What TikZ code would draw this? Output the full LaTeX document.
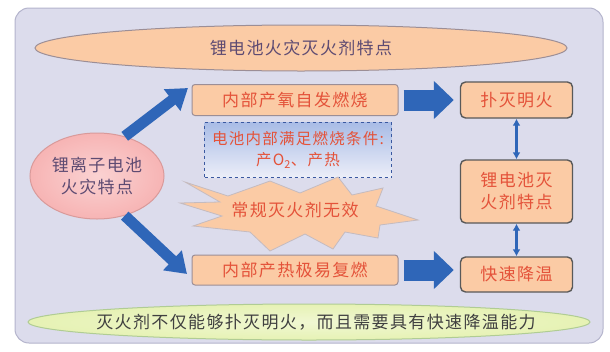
\documentclass[tikz,border=0pt]{standalone}
\usepackage{fontspec}
\setmainfont{Noto Sans CJK SC}[LetterSpace=8]
\usetikzlibrary{shapes.geometric,arrows.meta}
\definecolor{bgfill}{HTML}{DCDCEC}
\definecolor{bgline}{HTML}{B4B4CC}
\definecolor{peach}{HTML}{FBCBA5}
\definecolor{peachline}{HTML}{9C8E96}
\definecolor{redtxt}{HTML}{E4533A}
\definecolor{purtxt}{HTML}{5E4B72}
\definecolor{arrblue}{HTML}{2F66B8}
\definecolor{pinkfill}{HTML}{F7B4B4}
\definecolor{pinkline}{HTML}{D99A9A}
\definecolor{greenfill}{HTML}{E6F2B4}
\definecolor{greenline}{HTML}{B0CC94}
\definecolor{condtop}{HTML}{A9BCE6}
\definecolor{condbot}{HTML}{ECEEF8}
\definecolor{condline}{HTML}{3A58A0}
\begin{document}
\begin{tikzpicture}[x=1pt,y=-1pt,
  every node/.style={font=\fontsize{17}{21}\selectfont, inner sep=0pt, align=center},
  bgbox/.style={draw=bgline, fill=bgfill, line width=1pt, rounded corners=14pt},
  peachbox/.style={draw=peachline, fill=peach, line width=1pt, rounded corners=3pt, text=redtxt},
  rightbox/.style={draw=black!65, fill=peach, line width=1.4pt, rounded corners=5pt, text=redtxt, minimum width=112pt},
  blockarrow/.style={arrblue, line width=21pt, -{Triangle[length=20pt,width=37pt]}, shorten <=5pt, shorten >=6pt},
  diagarrow/.style={arrblue, line width=11pt, -{Triangle[length=20pt,width=26pt]}},
  dblarrow/.style={arrblue, line width=2.6pt, {Latex[length=7pt,width=8pt]}-{Latex[length=7pt,width=8pt]}},
  burst/.style={draw=peachline!60, fill=peach, line width=0.8pt, line join=miter}
]
\useasboundingbox (0,0) rectangle (610,351);
\fill[white] (0,0) rectangle (610,351);
\node[bgbox, minimum width=588pt, minimum height=335pt] (bg) at (309,175.5) {};

\node[ellipse, draw=peachline, fill=peach, line width=1pt, minimum width=532pt, minimum height=46pt, text=purtxt] (top) at (301,48) {锂电池火灾灭火剂特点};

\node[peachbox, minimum width=206pt, minimum height=31pt] (box1) at (295,100) {内部产氧自发燃烧};
\node[peachbox, minimum width=206pt, minimum height=30pt] (box2) at (295,270) {内部产热极易复燃};

\node[rightbox, minimum height=36pt] (fire) at (516.5,100) {扑灭明火};
\node[rightbox, minimum height=63pt] (mid) at (516.5,191.5) {锂电池灭\\[1pt]火剂特点};
\node[rightbox, minimum height=35pt] (cool) at (516.5,274.5) {快速降温};

\node[draw=condline, dashed, line width=1.2pt, top color=condtop, bottom color=condbot, minimum width=187pt, minimum height=55pt, text=redtxt, font=\fontsize{15.5}{21}\selectfont] (cond) at (298,150) {电池内部满足燃烧条件:\\产O\textsubscript{2}、产热};

\draw[burst] (185,182) -- (228,196) -- (270,181) -- (300,193) -- (338,177) -- (352,195)
  -- (383,188) -- (376,206) -- (418,220) -- (380,225) -- (378,238) -- (345,232)
  -- (333,249) -- (305,234) -- (270,251) -- (250,232) -- (193,226) -- (222,216)
  -- (180,203) -- (220,202) -- cycle;
\node[text=redtxt] (star) at (295,210) {常规灭火剂无效};

\node[ellipse, draw=pinkline, line width=1pt, inner color=pinkfill!60, outer color=pinkfill, minimum width=134pt, minimum height=86pt, text=purtxt] (lell) at (97,176) {锂离子电池\\[1pt]火灾特点};

\node[ellipse, draw=greenline, line width=1pt, inner color=greenfill!60, outer color=greenfill, minimum width=562pt, minimum height=36pt] (bot) at (309,322) {};
\node[text=black!75] (bottxt) at (316,322) {灭火剂不仅能够扑灭明火，而且需要具有快速降温能力};

\coordinate (up1) at (188,88);
\coordinate (dn1) at (187,274);
\draw[diagarrow] (lell.55) -- (up1);
\draw[diagarrow] (lell.-55) -- (dn1);

\draw[blockarrow] (box1.east) -- (fire.west |- box1.east);
\draw[blockarrow] (box2.east) -- (cool.west |- box2.east);

\draw[dblarrow] (fire.south) -- (mid.north);
\draw[dblarrow] (mid.south) -- (cool.north);
\end{tikzpicture}
\end{document}
